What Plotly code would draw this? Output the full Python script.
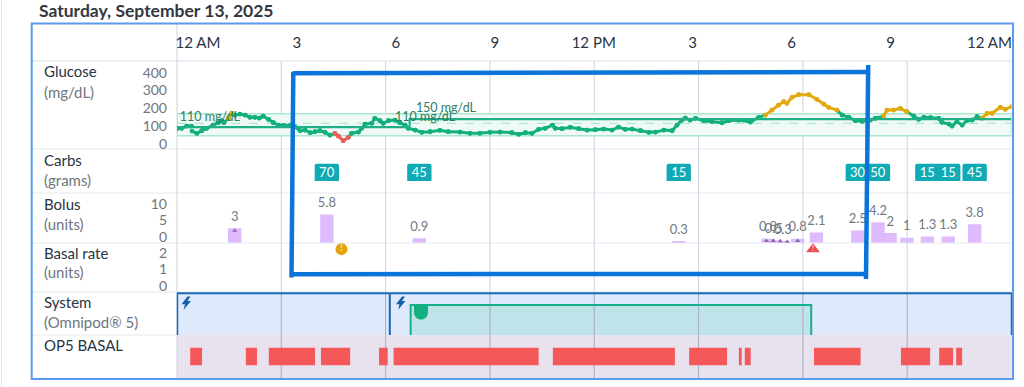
import plotly.graph_objects as go

W, H = 1024, 387
FONT = "Lato"

# ---------- data ----------
glucose_hours = [0,.13,.28,.42,None,.43,.57,.71,.85,1.04,1.19,1.28,1.35,1.48,1.57,1.67,1.81,1.96,2.10,2.24,2.37,2.48,2.63,2.77,2.91,3.06,3.25,3.39,3.54,3.68,3.83,3.97,4.11,4.26,4.40,4.54,4.64,4.78,4.93,5.02,5.22,5.31,5.41,5.60,5.69,5.84,5.93,6.08,6.27,6.41,6.56,6.65,6.85,7.04,7.28,7.56,7.80,8.14,8.43,8.71,9.00,9.29,9.63,9.83,10.02,10.21,10.40,10.59,10.80,10.88,11.07,11.31,11.55,11.79,12.03,12.27,12.51,12.70,12.89,13.09,13.33,13.57,13.76,14.00,14.24,14.38,14.52,14.62,14.76,14.91,15.15,15.39,15.67,15.87,16.15,16.49,16.73,16.92,17.11,17.30,17.45,17.54,17.69,17.88,18.17,18.40,18.60,18.74,18.98,19.13,19.32,19.51,19.70,19.94,20.08,20.32,20.42,20.61,20.80,20.99,21.19,21.33,21.48,21.67,21.91,22.00,22.20,22.29,22.43,22.58,22.72,22.87,23.01,23.15,23.30,23.44,23.68,23.82,24.0]
glucose_values = [105,107,118,118,None,93,82,95,107,123,135,145,135,157,182,173,178,173,162,162,158,168,152,135,123,122,120,115,95,98,85,90,95,87,73,82,68,45,62,82,88,107,128,132,157,145,132,145,148,135,123,107,98,87,90,97,90,88,82,82,87,88,85,77,85,82,102,107,123,107,105,112,105,98,100,103,98,113,102,103,95,87,88,98,95,123,148,158,148,157,145,140,135,145,148,138,162,173,198,223,240,232,262,275,275,252,228,212,198,173,162,145,142,148,157,168,198,198,207,190,168,152,162,160,157,137,128,118,140,123,145,148,165,157,182,182,212,202,215]
target_line_hours = [0,6.69,6.69,24]
target_line_values = [113,113,153,153]
range_low, range_high, range_mid = 70, 180, 132
target_labels = ["110 mg/dL", "110 mg/dL", "150 mg/dL"]
target_label_hours = [0.08, 6.27, 6.87]
target_label_values = [158, 160, 205]

carb_hours = [4.31,6.97,14.43,19.58,20.16,21.58,22.18,22.94]
carb_grams = [70,45,15,30,50,15,15,45]

bolus_hours = [1.66,4.31,6.97,14.43,17.0,17.16,17.42,17.85,18.39,19.58,20.16,20.51,20.99,21.58,22.18,22.94]
bolus_units = [3,5.8,0.9,0.3,0.8,0.5,0.3,0.8,2.1,2.5,4.2,2,1,1.3,1.3,3.8]
ext_hours = [1.66,16.95,17.15,17.35,17.55,17.85]
ext_units = [2.5,0.4,0.4,0.35,0.2,0.4]
alert_amber_hour = [4.73]
alert_red_hour = [18.29]

time_ticks = [0,3,6,9,12,15,18,21,24]
time_labels = ["12 AM","3","6","9","12 PM","3","6","9","12 AM"]
grid_hours = [3,6,9,12,15,18,21]
system_starts = [0,6.12]
auto_start, auto_end = 6.72, 18.24
basal_starts = [0.38,1.98,2.64,4.14,5.81,6.23,10.81,14.73,16.16,16.33,18.32,20.82,21.92,22.41]
basal_ends =   [0.72,2.30,3.97,4.98,6.06,10.40,14.32,15.82,16.24,16.50,19.66,21.66,22.32,22.58]

glucose_ticks = [0,100,200,300,400]
bolus_ticks = [0,5,10]
basal_ticks = [0,1,2]

rows = [("Glucose","(mg/dL)",71.5,92),("Carbs","(grams)",159.5,180),("Bolus","(units)",203.5,224),
        ("Basal rate","(units)",252.5,272),("System","(Omnipod® 5)",301.5,322),("OP5 BASAL","",344.5,0)]

# ---------- helpers ----------
def dom(top, bottom):
    return [1 - bottom / H, 1 - top / H]
def px(x): return x / W
def py(y): return 1 - y / H
def path(points):
    return "M" + " L".join(f"{px(x):.5f},{py(y):.5f}" for x, y in points) + " Z"

GREEN, GOLD, RED = "#12B07E", "#E2A90F", "#F25C5C"
LABEL, MUTED, GRID, ROWLINE = "#2A3442", "#6F7580", "#CDD2E0", "#E6E8F0"
HAND = "#0A74DA"

def cls(v):
    return GOLD if v >= range_high else (RED if v < range_low else GREEN)

fig = go.Figure()

# glucose segments, coloured by range
for colour in [GREEN, GOLD, RED]:
    xs, ys = [], []
    for i in range(1, len(glucose_values)):
        a, b = glucose_values[i - 1], glucose_values[i]
        if a is None or b is None or cls(b) != colour:
            continue
        xs += [glucose_hours[i - 1], glucose_hours[i], None]
        ys += [a, b, None]
    fig.add_trace(go.Scatter(x=xs, y=ys, mode="lines+markers", xaxis="x", yaxis="y",
                             line=dict(color=colour, width=3), marker=dict(color=colour, size=4.8),
                             hoverinfo="skip", showlegend=False))

fig.add_trace(go.Scatter(x=target_line_hours, y=target_line_values, mode="lines", xaxis="x", yaxis="y",
                         line=dict(color="#1FB088", width=2.2), hoverinfo="skip", showlegend=False))
fig.add_trace(go.Scatter(x=target_label_hours, y=target_label_values, mode="text", text=target_labels,
                         xaxis="x", yaxis="y", textposition="middle right",
                         textfont=dict(family=FONT, size=12.5, color="#2F7D63"),
                         hoverinfo="skip", showlegend=False))

# carbs
fig.add_trace(go.Bar(x=carb_hours, y=[1] * len(carb_hours), width=0.70, xaxis="x", yaxis="y3",
                     marker=dict(color="#0FAAB4", cornerradius=2, line=dict(width=0)),
                     text=[str(v) for v in carb_grams], textposition="inside", insidetextanchor="middle",
                     textangle=0, textfont=dict(family=FONT, size=13, color="white"),
                     constraintext="none", hoverinfo="skip", showlegend=False))

# bolus
fig.add_trace(go.Bar(x=bolus_hours, y=bolus_units, width=0.385, xaxis="x", yaxis="y4",
                     marker=dict(color="#DDBBFD", line=dict(width=0)), hoverinfo="skip", showlegend=False))
fig.add_trace(go.Scatter(x=ext_hours, y=ext_units, mode="markers", xaxis="x", yaxis="y4",
                         marker=dict(symbol="triangle-up", size=4.5, color="#8A6BA8"),
                         hoverinfo="skip", showlegend=False))
fig.add_trace(go.Scatter(x=bolus_hours, y=bolus_units, mode="markers+text", xaxis="x", yaxis="y4",
                         text=[str(v) for v in bolus_units], textposition="top center",
                         marker=dict(size=5, opacity=0), cliponaxis=False,
                         textfont=dict(family=FONT, size=13, color="#74787F"),
                         hoverinfo="skip", showlegend=False))

# alerts
fig.add_trace(go.Scatter(x=alert_amber_hour, y=[1.75], mode="markers+text", xaxis="x", yaxis="y6", text=["!"],
                         textposition="middle center", textfont=dict(family=FONT, size=9, color="white"),
                         marker=dict(symbol="circle", size=12, color="#E2A30B"), hoverinfo="skip", showlegend=False))
fig.add_trace(go.Scatter(x=alert_red_hour, y=[1.75], mode="markers+text", xaxis="x", yaxis="y6", text=["!"],
                         textposition="middle center", textfont=dict(family=FONT, size=8, color="white"),
                         marker=dict(symbol="triangle-up", size=12, color="#EE4B4B"), hoverinfo="skip", showlegend=False))

# OP5 basal
fig.add_trace(go.Bar(y=["OP5 BASAL"] * len(basal_starts), base=basal_starts,
                     x=[e - s for s, e in zip(basal_starts, basal_ends)], orientation="h", width=0.405,
                     xaxis="x", yaxis="y7", marker=dict(color="#F55858", line=dict(width=0)),
                     hoverinfo="skip", showlegend=False))

# carriers for the tick-only axes
for xa, ya, xv, yv in [("x2", "y2", time_ticks, [0] * 9), ("x", "y5", [0] * 3, bolus_ticks), ("x", "y8", [0] * 3, basal_ticks)]:
    fig.add_trace(go.Scatter(x=xv, y=yv, mode="markers", xaxis=xa, yaxis=ya, marker=dict(opacity=0, size=1),
                             hoverinfo="skip", showlegend=False))
fig.add_trace(go.Scatter(x=[0] * 5, y=glucose_ticks, mode="markers", xaxis="x", yaxis="y9",
                         marker=dict(opacity=0, size=1), hoverinfo="skip", showlegend=False))

# ---------- shapes ----------
L, R = 177, 1011.5
shapes = []
def rect_px(x0, y0, x1, y1, fill, layer="below"):
    shapes.append(dict(type="rect", xref="paper", yref="paper", x0=px(x0), x1=px(x1), y0=py(y0), y1=py(y1),
                       fillcolor=fill, line=dict(width=0), layer=layer))
def line_px(x0, y0, x1, y1, colour, width, layer="below"):
    shapes.append(dict(type="line", xref="paper", yref="paper", x0=px(x0), x1=px(x1), y0=py(y0), y1=py(y1),
                       line=dict(color=colour, width=width), layer=layer))

rect_px(L, 293, R, 335, "#DEEAFB")
rect_px(L, 335, R, 378, "#E8E1EE")
for y in [61, 149, 193, 243, 292, 335]:
    line_px(32, y, 1012, y, ROWLINE if y > 61 else "#D9DCE8", 1)
line_px(L, 24, L, 378, GRID, 1)
# glucose band
shapes.append(dict(type="rect", xref="x", yref="y", x0=0, x1=24, y0=range_low, y1=range_high,
                   fillcolor="#EFFAF6", line=dict(color="#A9E7D0", width=1.5), layer="below"))
shapes.append(dict(type="line", xref="x", yref="y", x0=0, x1=24, y0=range_mid, y1=range_mid,
                   line=dict(color="#9FE3CB", width=1, dash="dash"), layer="below"))
# auto mode block
shapes.append(dict(type="rect", xref="x", yref="paper", x0=auto_start, x1=auto_end, y0=py(335), y1=py(305),
                   fillcolor="#BFE3E8", line=dict(width=0), layer="below"))
for h in grid_hours:
    shapes.append(dict(type="line", xref="x", yref="paper", x0=h, x1=h, y0=py(61), y1=py(378),
                       line=dict(color=GRID, width=1), layer="below"))
    shapes.append(dict(type="line", xref="x", yref="paper", x0=h, x1=h, y0=py(293), y1=py(378),
                       line=dict(color="rgba(90,100,130,0.33)", width=1), layer="below"))
# system outlines
line_px(L, 293.3, R, 293.3, "#1A69B4", 2)
line_px(L + .5, 293, L + .5, 335, "#1A69B4", 1.5)
line_px(R, 293, R, 335, "#1A69B4", 1.5)
for s in system_starts[1:]:
    shapes.append(dict(type="line", xref="x", yref="paper", x0=s, x1=s, y0=py(293), y1=py(335),
                       line=dict(color="#1A69B4", width=2), layer="below"))
shapes.append(dict(type="path", xref="x", yref="paper", layer="below",
                   path=f"M{auto_start},{py(335):.5f} L{auto_start},{py(305):.5f} L{auto_end},{py(305):.5f} L{auto_end},{py(335):.5f}",
                   line=dict(color="#16B088", width=2)))
# pod drop
shapes.append(dict(type="path", xref="paper", yref="paper", layer="below", fillcolor="#12B07E", line=dict(width=0),
                   path=(f"M{px(414):.5f},{py(306):.5f} L{px(428):.5f},{py(306):.5f} L{px(428):.5f},{py(312):.5f} "
                         f"C{px(428):.5f},{py(322):.5f} {px(414):.5f},{py(322):.5f} {px(414):.5f},{py(312):.5f} Z")))
# bolts
for ox in [0, 214.5]:
    pts = [(187.5 + ox, 296.5), (181.5 + ox, 304.3), (185 + ox, 304.3), (183.6 + ox, 309.7), (191 + ox, 301), (187.3 + ox, 301), (190.5 + ox, 296.5)]
    shapes.append(dict(type="path", xref="paper", yref="paper", path=path(pts), fillcolor="#135FA8", line=dict(width=0), layer="above"))
# frame
shapes.append(dict(type="rect", xref="paper", yref="paper", x0=px(31.7), x1=px(1013), y0=py(379), y1=py(23.5),
                   line=dict(color="#5B9BEF", width=2), layer="above"))
line_px(1.5, 0, 1.5, 387, "#E4E7EE", 1)
# hand-drawn rectangle
line_px(292.5, 73.3, 868, 72, HAND, 4.5, "above")
line_px(293.3, 72, 291.5, 277.5, HAND, 4.5, "above")
line_px(291, 274.2, 866, 274, HAND, 4.5, "above")
line_px(868.2, 65, 866, 279, HAND, 4.5, "above")

# ---------- texts ----------
ann = [dict(text="<b>Saturday, September 13, 2025</b>", xref="paper", yref="paper", x=px(37), y=py(10.5),
            xanchor="left", yanchor="middle", showarrow=False, font=dict(family=FONT, size=17.5, color="#333840"))]
for name, unit, y1, y2 in rows:
    ann.append(dict(text=name, xref="paper", yref="paper", x=px(42), y=py(y1), xanchor="left", yanchor="middle",
                    showarrow=False, font=dict(family=FONT, size=15, color=LABEL)))
    if unit:
        ann.append(dict(text=unit, xref="paper", yref="paper", x=px(42), y=py(y2), xanchor="left", yanchor="middle",
                        showarrow=False, font=dict(family=FONT, size=15, color=MUTED)))

def yax(top, bottom, rng, **kw):
    base = dict(domain=dom(top, bottom), range=rng, visible=False, fixedrange=True, anchor="x", automargin=False)
    base.update(kw)
    return base
def ytick(top, bottom, rng, ticks):
    return dict(domain=dom(top, bottom), range=rng, tickmode="array", tickvals=ticks, showgrid=False, zeroline=False,
                showline=False, ticks="", ticklabelstandoff=10, anchor="free", position=px(L), side="left", automargin=False,
                tickfont=dict(family=FONT, size=14, color=MUTED), fixedrange=True)

fig.update_layout(
    width=W, height=H, margin=dict(l=0, r=0, t=0, b=0), autosize=False, barmode="overlay", showlegend=False,
    template="none",
    paper_bgcolor="white", plot_bgcolor="rgba(0,0,0,0)", shapes=shapes, annotations=ann,
    xaxis=dict(domain=[px(L), px(R)], range=[0, 24], visible=False, fixedrange=True, anchor="y", automargin=False),
    xaxis2=dict(domain=[px(198), px(989.5)], range=[0, 24], tickmode="array", tickvals=time_ticks, ticktext=time_labels,
                showgrid=False, zeroline=False, showline=False, ticks="", anchor="free", position=py(51), side="top", automargin=False,
                tickfont=dict(family=FONT, size=15, color=LABEL), fixedrange=True),
    yaxis=yax(61, 149, [3.5, 443.5]),
    yaxis2=dict(domain=dom(23, 61), range=[0, 1], visible=False, anchor="x2", fixedrange=True, automargin=False),
    yaxis3=yax(149, 193, [-0.69, 1.85]),
    yaxis4=yax(193, 242.7, [0, 10.25]),
    yaxis5=ytick(204, 236.7, [0, 10], bolus_ticks),
    yaxis6=yax(243, 292, [0, 2]),
    yaxis7=dict(domain=dom(335, 378), type="category", range=[-0.5, 0.5], visible=False, anchor="x", fixedrange=True, automargin=False),
    yaxis8=ytick(253.3, 285.7, [0, 2], basal_ticks),
    yaxis9=ytick(72.7, 144, [0, 400], glucose_ticks),
)
fig.write_html("out.html", config=dict(displayModeBar=False),
               post_script="document.body.style.margin='0';document.body.style.overflow='hidden';")
